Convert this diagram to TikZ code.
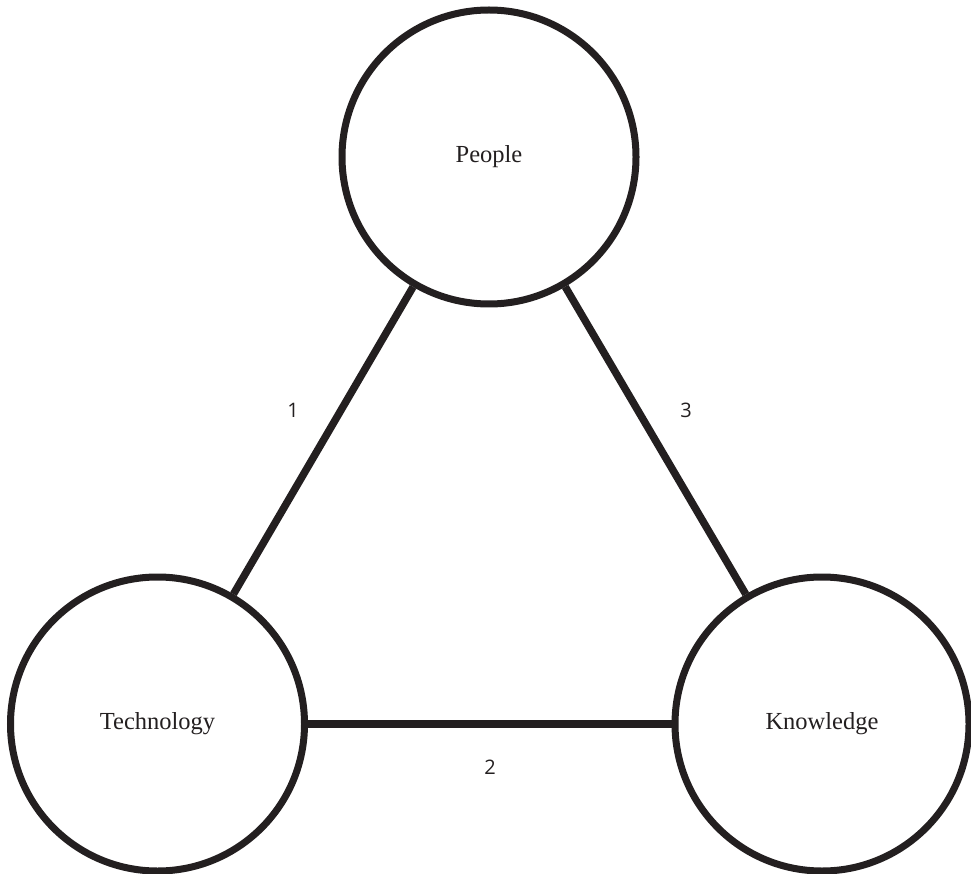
\documentclass[tikz,border=0pt]{standalone}
\usepackage{fontspec}
\setmainfont{Liberation Serif}
\newfontfamily\digitfont{Open Sans}
\definecolor{ink}{HTML}{231F20}
\begin{document}
\begin{tikzpicture}[x=1pt,y=-1pt,
  areanode/.style={circle, draw=ink, line width=7pt, minimum size=294pt, inner sep=0pt,
    text=ink, font=\fontsize{24.5}{28}\selectfont},
  linkline/.style={draw=ink, line width=7.5pt},
  tagnum/.style={text=ink, font=\digitfont\fontsize{20}{24}\selectfont, inner sep=0pt}]
  \useasboundingbox (0,0) rectangle (971,874);

  % the three areas
  \node[areanode] (people) at (489,157) {People};
  \node[areanode] (tech)   at (157.5,724) {Technology};
  \node[areanode] (know)   at (822,724) {Knowledge};

  % links between the areas
  \draw[linkline] (people) -- (tech);
  \draw[linkline] (tech) -- (know);
  \draw[linkline] (know) -- (people);

  % link numbers
  \node[tagnum] (n1) at (293,410) {1};
  \node[tagnum] (n2) at (490,767) {2};
  \node[tagnum] (n3) at (686,410) {3};
\end{tikzpicture}
\end{document}
